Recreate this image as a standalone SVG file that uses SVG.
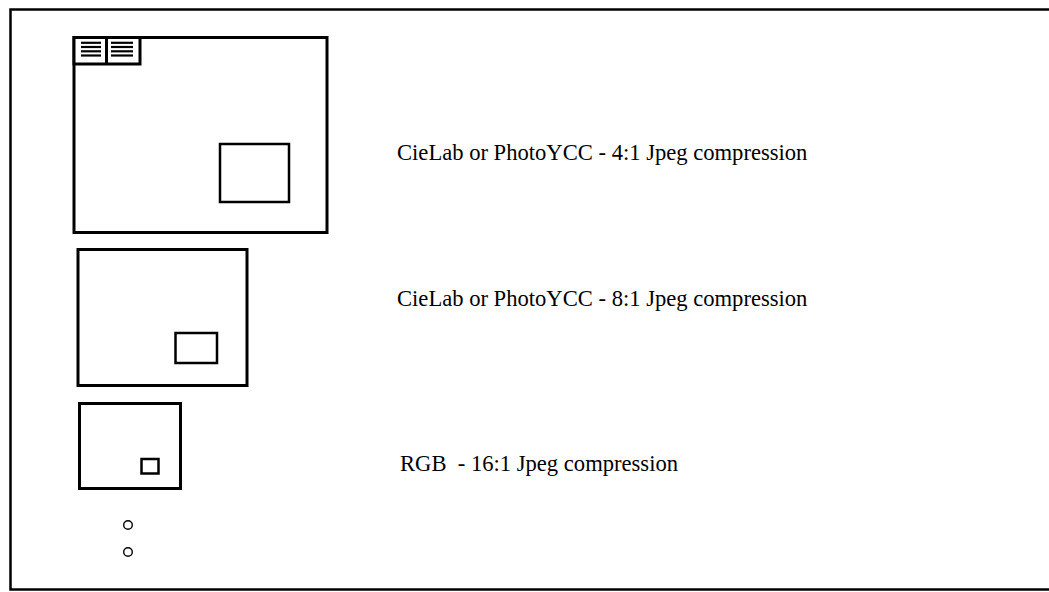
<svg xmlns="http://www.w3.org/2000/svg" width="1049" height="592" viewBox="0 0 1049 592">
<style>
.frame{fill:none;stroke:#000;stroke-width:2.5}
.box{fill:#fff;stroke:#000;stroke-width:3}
.inner{fill:#fff;stroke:#000;stroke-width:2.5}
.ln{stroke:#000;stroke-width:2.2}
.dot{fill:none;stroke:#000;stroke-width:1.4}
.lbl{font-family:"Liberation Serif","Times New Roman",serif;font-size:22.6px;fill:#000}
</style>
<rect width="1049" height="592" fill="#fff"/>
<path class="frame" d="M1060 9.5 H10.5 V589.5 H1060"/>
<g id="level1">
<rect class="box" x="74" y="37.5" width="253" height="195"/>
<rect class="box" x="74" y="37.5" width="66" height="26.5"/>
<line class="ln" x1="106.5" y1="37.5" x2="106.5" y2="64" style="stroke-width:3"/>
<g>
<line class="ln" x1="81" y1="42.8" x2="101" y2="42.8"/>
<line class="ln" x1="81" y1="47" x2="101" y2="47"/>
<line class="ln" x1="81" y1="51.3" x2="101" y2="51.3"/>
<line class="ln" x1="81" y1="55.5" x2="101" y2="55.5"/>
<line class="ln" x1="111" y1="42.8" x2="133" y2="42.8"/>
<line class="ln" x1="111" y1="47" x2="133" y2="47"/>
<line class="ln" x1="111" y1="51.3" x2="133" y2="51.3"/>
<line class="ln" x1="111" y1="55.5" x2="133" y2="55.5"/>
</g>
<rect class="inner" x="220" y="144" width="69" height="58"/>
<text class="lbl" x="397" y="160">CieLab or PhotoYCC - 4:1 Jpeg compression</text>
</g>
<g id="level2">
<rect class="box" x="78" y="249.5" width="169" height="136"/>
<rect class="inner" x="175.5" y="333" width="41.5" height="30"/>
<text class="lbl" x="397" y="306">CieLab or PhotoYCC - 8:1 Jpeg compression</text>
</g>
<g id="level3">
<rect class="box" x="79.5" y="403.5" width="101" height="85"/>
<rect class="inner" x="141.5" y="459" width="17" height="14.5"/>
<text class="lbl" x="400" y="471">RGB&#160; - 16:1 Jpeg compression</text>
</g>
<g id="more">
<circle class="dot" cx="128" cy="525" r="4.3"/>
<circle class="dot" cx="128" cy="552" r="4.3"/>
</g>
</svg>
